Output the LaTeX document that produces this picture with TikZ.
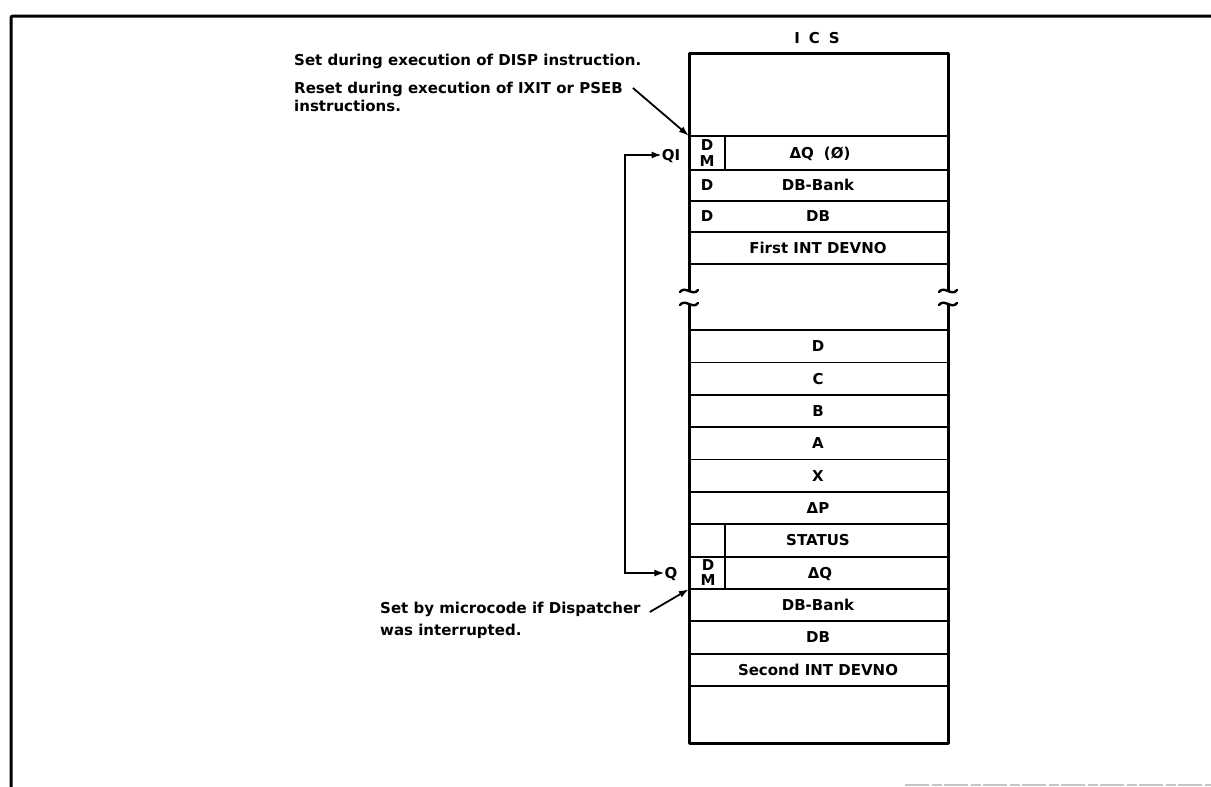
\documentclass[tikz,border=0pt]{standalone}
\usepackage{fontspec}
\setmainfont{DejaVu Sans}
\usetikzlibrary{arrows.meta,calc}
\tikzset{
  txt/.style={font=\bfseries\fontsize{15}{18}\selectfont, inner sep=0pt},
  rowtxt/.style={txt, text height=10.8pt, text depth=0pt, anchor=center},
  wall/.style={line width=3pt, line join=round},
  rowline/.style={line width=1.8pt},
  wavy/.style={line width=2.4pt, line cap=round},
  arr/.style={line width=1.8pt, -{Latex[length=10pt,width=7pt]}},
  darr/.style={line width=1.8pt, {Latex[length=10pt,width=7pt]}-{Latex[length=10pt,width=7pt]}},
  cellbox/.style={draw=none, inner sep=0pt, minimum width=36pt, minimum height=32.4pt}
}
\begin{document}
\begin{tikzpicture}[x=1pt, y=1pt, yscale=-1]
\useasboundingbox (0,0) rectangle (1211,787);
% outer frame
\draw[line width=3pt, rounded corners=2pt] (11,787) -- (11,16) -- (1211,16);
\draw[gray!45, line width=1.4pt, dash pattern=on 24pt off 3pt on 10pt off 2pt] (905,785) -- (1211,785);

% ICS title
\node[txt] (ics) at (817,38) {I\hspace{9pt}C\hspace{9pt}S};

% walls of the stack
\draw[wall] (689,291) -- (689,53) -- (948,53) -- (948,291);
\draw[wall] (689,304) -- (689,743) -- (948,743) -- (948,304);
% break marks
\foreach \wx in {689,948}{
  \foreach \wy in {291,304}{
    \draw[wavy] (\wx-9,\wy+1) .. controls (\wx-4,\wy-6) and (\wx+4,\wy+6) .. (\wx+9,\wy-1);
  }
}
% row separators
\foreach \ry in {136,170,201,232,264,330,362.4,394.7,427.1,459.5,491.8,524.2,556.6,589,621.3,653.7,686}{
  \draw[rowline] (689,\ry) -- (948,\ry);
}

% left cells
\node[cellbox, minimum height=34pt] (dm1) at (707,153) {};
\draw[rowline] (dm1.north east) -- (dm1.south east);
\node[txt, anchor=center, text height=10.5pt, text depth=0pt] (dm1d) at (707,145) {D};
\node[txt, anchor=center, text height=10.5pt, text depth=0pt] (dm1m) at (707,161) {M};

\node[cellbox] (st) at (707,540.4) {};
\node[cellbox] (dm2) at (707,572.8) {};
\draw[rowline] (st.north east) -- (dm2.south east);
\node[txt, anchor=center, text height=10.5pt, text depth=0pt] (dm2d) at (708,565) {D};
\node[txt, anchor=center, text height=10.5pt, text depth=0pt] (dm2m) at (708,580) {M};

% row texts (top part)
\node[rowtxt] (r1) at (820,153) {ΔQ\hspace{10pt}(Ø)};
\node[rowtxt] (r2) at (818,185.5) {DB-Bank};
\node[rowtxt] (r2d) at (707,185.5) {D};
\node[rowtxt] (r3) at (818,216.5) {DB};
\node[rowtxt] (r3d) at (707,216.5) {D};
\node[rowtxt] (r4) at (818,248) {First INT DEVNO};
% row texts (bottom part)
\node[rowtxt] (b1) at (818,346.2) {D};
\node[rowtxt] (b2) at (818,378.6) {C};
\node[rowtxt] (b3) at (818,410.9) {B};
\node[rowtxt] (b4) at (818,443.3) {A};
\node[rowtxt] (b5) at (818,475.7) {X};
\node[rowtxt] (b6) at (818,508) {ΔP};
\node[rowtxt] (b7) at (818,540.4) {STATUS};
\node[rowtxt] (b8) at (820,572.8) {ΔQ};
\node[rowtxt] (b9) at (818,605.2) {DB-Bank};
\node[rowtxt] (b10) at (818,637.5) {DB};
\node[rowtxt] (b11) at (818,669.9) {Second INT DEVNO};

% pointer labels
\node[rowtxt] (qi) at (671,155) {QI};
\node[rowtxt] (q) at (671,573) {Q};
\coordinate (lx) at (625,0);
\draw[darr] (qi.west) -- (lx |- qi.west) -- (lx |- q.west) -- (q.west);

% annotations
\node[txt, anchor=base west] (settxt) at (294,65) {Set during execution of DISP instruction.};
\node[txt, anchor=base west] (resettxt) at (294,93) {Reset during execution of IXIT or PSEB};
\node[txt, anchor=base west] (resettxt2) at (294,111.5) {instructions.};
\draw[arr] ($(resettxt.base east)+(10,-5)$) -- (dm1.north west);

\node[txt, anchor=base west] (bot1) at (380,613) {Set by microcode if Dispatcher};
\node[txt, anchor=base west] (bot2) at (380,635) {was interrupted.};
\draw[arr] ($(bot1.base east)+(9,-1)$) -- (dm2.south west);
\end{tikzpicture}
\end{document}
